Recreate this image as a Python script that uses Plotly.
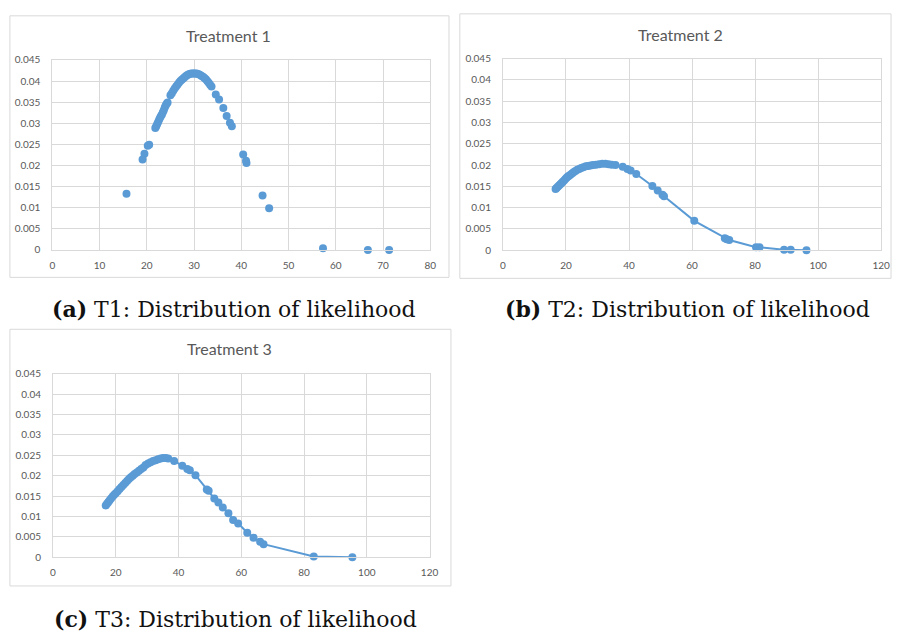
import plotly.graph_objects as go

# ---- data -------------------------------------------------------------
t1_x = [15.7, 19.1, 19.5, 20.2, 20.5,
        21.8, 22.0, 22.2, 22.4, 22.6, 22.8, 23.0, 23.2, 23.4, 23.6, 23.8, 24.0, 24.2, 24.4,
        25.0, 25.3, 25.6, 25.9, 26.2, 26.5, 26.8, 27.1, 27.4, 27.7, 28.0, 28.3, 28.6, 28.9,
        29.2, 29.5, 29.8, 30.1, 30.4, 30.7, 31.0, 31.3, 31.6, 31.9, 32.2, 32.5, 32.8, 33.1,
        33.4, 33.7, 34.6, 35.3, 36.2, 36.9, 37.6, 38.0, 40.4, 41.0, 41.1, 44.5, 45.9,
        57.3, 66.8, 71.3]
t1_y = [0.0133, 0.0214, 0.0228, 0.0247, 0.0249,
        0.0289, 0.0293, 0.0298, 0.0303, 0.0308, 0.0313, 0.0317, 0.0321, 0.0326, 0.0331, 0.0337, 0.0342, 0.0346, 0.0349,
        0.0366, 0.0371, 0.0377, 0.0382, 0.0387, 0.0391, 0.0396, 0.0400, 0.0403, 0.0406, 0.0409, 0.0412, 0.0414, 0.0416,
        0.0417, 0.0418, 0.0418, 0.0418, 0.0418, 0.0417, 0.0416, 0.0414, 0.0412, 0.0410, 0.0407, 0.0404, 0.0400, 0.0396,
        0.0391, 0.0387, 0.0368, 0.0356, 0.0336, 0.0317, 0.0301, 0.0293, 0.0226, 0.0211, 0.0206, 0.0129, 0.0099,
        0.0004, 0.0000, 0.0000]

t2_x = [16.7, 17.0, 17.4, 17.8, 18.2, 18.6, 19.0, 19.4, 19.8, 20.2, 20.6, 21.0, 21.5, 22.0, 22.5,
        23.0, 23.6, 24.2, 24.8, 25.5, 26.3, 27.0, 27.8, 28.6, 29.5, 30.5, 31.5, 32.5, 33.5, 34.5,
        35.7, 38.0, 39.5, 40.5, 42.3, 47.4, 49.1, 50.6, 51.1, 60.7, 70.4, 71.0, 71.8, 80.3, 81.4,
        89.2, 91.3, 96.3]
t2_y = [0.0144, 0.0146, 0.0149, 0.0152, 0.0155, 0.0158, 0.0161, 0.0164, 0.0167, 0.0170, 0.0173, 0.0175, 0.0178, 0.0181, 0.0184,
        0.0186, 0.0189, 0.0191, 0.0193, 0.0195, 0.0197, 0.0198, 0.0199, 0.0200, 0.0201, 0.0202, 0.0203, 0.0203, 0.0202, 0.0201,
        0.0200, 0.0196, 0.0191, 0.0187, 0.0179, 0.0151, 0.0140, 0.0130, 0.0127, 0.0069, 0.0028, 0.0026, 0.0024, 0.0007, 0.0007,
        0.0001, 0.0001, 0.0000]

t3_x = [16.8, 17.2, 17.6, 18.0, 18.5, 19.0, 19.5, 20.0, 20.6, 21.2, 21.8, 22.4, 23.0, 23.6, 24.2,
        24.8, 25.4, 26.0, 26.7, 27.4, 28.1, 28.8, 29.5, 30.3, 31.1, 31.9, 32.7, 33.5, 34.3, 35.1,
        35.9, 36.7, 38.6, 41.2, 42.8, 43.6, 45.4, 49.0, 49.6, 51.4, 52.7, 54.1, 55.9, 57.4, 59.0,
        61.9, 63.9, 66.0, 67.1, 83.1, 95.4]
t3_y = [0.0127, 0.0131, 0.0135, 0.0139, 0.0144, 0.0149, 0.0153, 0.0157, 0.0162, 0.0167, 0.0172, 0.0177, 0.0182, 0.0187, 0.0192,
        0.0196, 0.0200, 0.0204, 0.0208, 0.0212, 0.0216, 0.0220, 0.0226, 0.0230, 0.0233, 0.0236, 0.0238, 0.0240, 0.0242, 0.0243,
        0.0243, 0.0242, 0.0236, 0.0224, 0.0216, 0.0213, 0.0201, 0.0166, 0.0163, 0.0144, 0.0134, 0.0122, 0.0108, 0.0091, 0.0083,
        0.0060, 0.0048, 0.0038, 0.0032, 0.0002, 0.0000]

y_ticks = [0, 0.005, 0.01, 0.015, 0.02, 0.025, 0.03, 0.035, 0.04, 0.045]
y_tick_text = ["0", "0.005", "0.01", "0.015", "0.02", "0.025", "0.03", "0.035", "0.04", "0.045"]

titles = ["Treatment 1", "Treatment 2", "Treatment 3"]
captions = ["<b>(a)</b> T1: Distribution of likelihood",
            "<b>(b)</b> T2: Distribution of likelihood",
            "<b>(c)</b> T3: Distribution of likelihood"]

# ---- styling ----------------------------------------------------------
W, H = 902, 637
BLUE = "#5b9bd5"
GRID = "#d9d9d9"
TXT = "#595959"
SANS = "Lato, 'Open Sans', sans-serif"
TICK_FONT = dict(family=SANS, size=10, color=TXT)


def px(x):
    return x / W


def py(y):
    return 1 - y / H


fig = go.Figure()

fig.add_trace(go.Scatter(x=t1_x, y=t1_y, mode="markers", xaxis="x", yaxis="y",
                         marker=dict(color=BLUE, size=8), cliponaxis=False))
fig.add_trace(go.Scatter(x=t2_x, y=t2_y, mode="lines+markers", xaxis="x2", yaxis="y2",
                         marker=dict(color=BLUE, size=8), line=dict(color=BLUE, width=2),
                         cliponaxis=False))
fig.add_trace(go.Scatter(x=t3_x, y=t3_y, mode="lines+markers", xaxis="x3", yaxis="y3",
                         marker=dict(color=BLUE, size=8), line=dict(color=BLUE, width=2),
                         cliponaxis=False))


def xaxis(domain, rng, dtick, anchor):
    return dict(domain=domain, range=rng, dtick=dtick, tick0=0, anchor=anchor,
                showgrid=True, gridcolor=GRID, gridwidth=1, zeroline=False,
                showline=True, linecolor=GRID, linewidth=1, mirror=True,
                ticks="", tickfont=TICK_FONT, ticklabelstandoff=6, fixedrange=True)


def yaxis(domain, anchor):
    return dict(domain=domain, range=[0, 0.045], tickvals=y_ticks, ticktext=y_tick_text,
                anchor=anchor, showgrid=True, gridcolor=GRID, gridwidth=1, zeroline=False,
                showline=True, linecolor=GRID, linewidth=1, mirror=True,
                ticks="", tickfont=TICK_FONT, ticklabelstandoff=9, fixedrange=True)


# plot-area rectangles (pixels): left, right, top, bottom
areas = [(50, 433, 54, 248), (506.7, 890, 52.7, 248.3), (50.7, 432.3, 374.3, 561.7)]
ranges = [([0, 80], 10), ([0, 120], 20), ([0, 120], 20)]
names = ["", "2", "3"]

layout = dict(width=W, height=H, margin=dict(l=0, r=0, t=0, b=0),
              paper_bgcolor="white", plot_bgcolor="white", showlegend=False)

for (l, r, t, b), (rng, dt), n in zip(areas, ranges, names):
    layout["xaxis" + n] = xaxis([px(l), px(r)], rng, dt, "y" + n)
    layout["yaxis" + n] = yaxis([py(b), py(t)], "x" + n)

fig.update_layout(**layout)

# chart frames
frames = [(7, 452, 9, 276), (463, 900, 7, 277), (7, 454, 329, 591)]
for l, r, t, b in frames:
    fig.add_shape(type="rect", xref="paper", yref="paper",
                  x0=px(l), x1=px(r), y0=py(b), y1=py(t),
                  line=dict(color=GRID, width=1), fillcolor="rgba(0,0,0,0)")

# chart titles
title_pos = [(229, 29), (687, 28), (230, 349)]
for txt, (x, y) in zip(titles, title_pos):
    fig.add_annotation(text=txt, x=px(x), y=py(y), xref="paper", yref="paper",
                       showarrow=False, xanchor="center", yanchor="middle",
                       font=dict(family=SANS, size=16, color=TXT))

# figure captions
cap_pos = [(48, 308), (507, 308), (50, 625)]
for txt, (x, y) in zip(captions, cap_pos):
    fig.add_annotation(text=txt, x=px(x), y=py(y), xref="paper", yref="paper",
                       showarrow=False, xanchor="left", yanchor="middle",
                       font=dict(family="'DejaVu Serif', serif", size=22, color="#111111"))

# keep the figure flush with the page edges
fig.write_html("out.html",
               post_script="document.body.style.margin='0';"
                           "document.body.style.overflow='hidden';")
